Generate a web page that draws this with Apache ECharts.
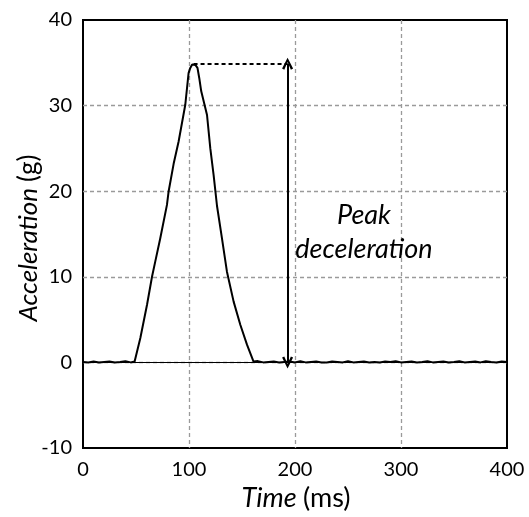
<!DOCTYPE html>
<html>
<head>
<meta charset="utf-8">
<script src="https://cdn.jsdelivr.net/npm/echarts@6/dist/echarts.min.js"></script>
<style>
html,body{margin:0;padding:0;background:#fff;}
#c{width:529px;height:517px;}
</style>
</head>
<body>
<div id="c"></div>
<script>
// Time (ms)
var times = [0,5,10,15,20,25,30,35,40,45,48.7,49.3,54.1,60.4,65.1,68.2,72.9,79.2,80.8,85.5,90.2,96.5,99.6,101.2,103,104.3,106,108,109.7,111.5,117.0,120.1,123.2,126.4,131.1,135.8,142.1,148.4,154.7,160.9,
  165,170,175,180,185,190,195,200,205,210,215,220,225,230,235,240,245,250,255,260,265,270,275,280,285,290,295,300,305,310,315,320,325,330,335,340,345,350,355,360,365,370,375,380,385,390,395,400];
// Acceleration (g)
var accel = [0.05,0,0.1,0,0.05,0.1,0,0.05,0.15,0,0.1,0.3,2.85,6.74,10.0,11.8,14.5,18.4,20.0,23.2,25.8,30.1,33.8,34.4,34.8,34.9,34.75,34.4,33.2,31.7,28.9,25.0,21.9,18.3,14.5,10.6,7.1,4.4,2.07,0.1,
  0.15,0,0.05,0.1,0,0.05,0.1,0,0.15,0,0.05,0.1,0,0,0.1,0.05,0,0.15,0,0.05,0.1,0,0.05,0,0.1,0.05,0.15,0,0.05,0.1,0,0.05,0.15,0,0.05,0.1,0,0.05,0.15,0,0.05,0.1,0,0.15,0.05,0,0.1,0.05];

var xTicks = {min:0, max:400, step:100};
var yTicks = {min:-10, max:40, step:10};

var peakTime = 104.3;
var peakValue = 34.9;
var arrowTime = 193;
var annotationPos = [265, 15.2];
var annotationText = ['Peak', 'deceleration'];
var xTitle = ['Time', '(ms)'];
var yTitle = ['Acceleration', '(g)'];

var data = times.map(function(t,i){return [t, accel[i]];});
var font = 'Lato, "Open Sans", sans-serif';
var vHead = 'path://M0,10 L5,0 L10,10 L8,11 L5,4 L2,11 Z';

var chart = echarts.init(document.getElementById('c'), null, {renderer:'canvas'});
chart.setOption({
  animation:false,
  backgroundColor:'#fff',
  grid:{left:83, right:22, top:20, bottom:69, show:true, borderColor:'#000', borderWidth:2, backgroundColor:'transparent'},
  xAxis:{type:'value', min:xTicks.min, max:xTicks.max, interval:xTicks.step,
    axisLine:{show:false}, axisTick:{show:false},
    axisLabel:{color:'#000', fontSize:20, fontFamily:font, margin:12},
    splitLine:{show:true, showMinLine:false, showMaxLine:false, lineStyle:{color:'#9a9a9a', width:1.3, type:[4,3]}}},
  yAxis:{type:'value', min:yTicks.min, max:yTicks.max, interval:yTicks.step,
    axisLine:{show:false}, axisTick:{show:false},
    axisLabel:{color:'#000', fontSize:20, fontFamily:font, margin:11},
    splitLine:{show:true, showMinLine:false, showMaxLine:false, lineStyle:{color:'#9a9a9a', width:1.3, type:[4,3]}}},
  graphic:[
    {type:'text', x:296, y:498, style:{text:'{i|'+xTitle[0]+' }{n|'+xTitle[1]+'}', align:'center', verticalAlign:'middle',
      rich:{i:{fontStyle:'italic', fontSize:27, fontFamily:font, fill:'#000'}, n:{fontSize:27, fontFamily:font, fill:'#000'}}}},
    {type:'text', x:29, y:238, rotation:Math.PI/2, style:{text:'{i|'+yTitle[0]+' }{n|'+yTitle[1]+'}', align:'center', verticalAlign:'middle',
      rich:{i:{fontStyle:'italic', fontSize:26, fontFamily:font, fill:'#000'}, n:{fontSize:26, fontFamily:font, fill:'#000'}}}}
  ],
  series:[{
    type:'line', data:data, showSymbol:false, symbol:'none', smooth:false,
    lineStyle:{color:'#000', width:2}, z:5,
    markLine:{silent:true, animation:false, label:{show:false}, emphasis:{disabled:true},
      data:[
        [{coord:[xTicks.min,0], symbol:'none', lineStyle:{color:'#000', width:1, type:'solid'}},{coord:[xTicks.max,0], symbol:'none'}],
        [{coord:[peakTime,peakValue], symbol:'none', lineStyle:{color:'#000', width:2, type:[4,3]}},{coord:[arrowTime,peakValue], symbol:'none'}],
        [{coord:[arrowTime,0], symbol:vHead, symbolSize:[11,12], lineStyle:{color:'#000', width:2, type:'solid'}},{coord:[arrowTime,peakValue], symbol:vHead, symbolSize:[11,12]}]
      ]},
    markPoint:{silent:true, symbol:'rect', symbolSize:1, itemStyle:{color:'rgba(0,0,0,0)'}, data:[{coord:annotationPos, value:0,
      label:{show:true, position:'inside', formatter:annotationText.join('\n'), color:'#000', fontStyle:'italic', fontSize:27, lineHeight:34, fontFamily:font, align:'center', verticalAlign:'middle'}}]}
  }]
});
</script>
</body>
</html>
